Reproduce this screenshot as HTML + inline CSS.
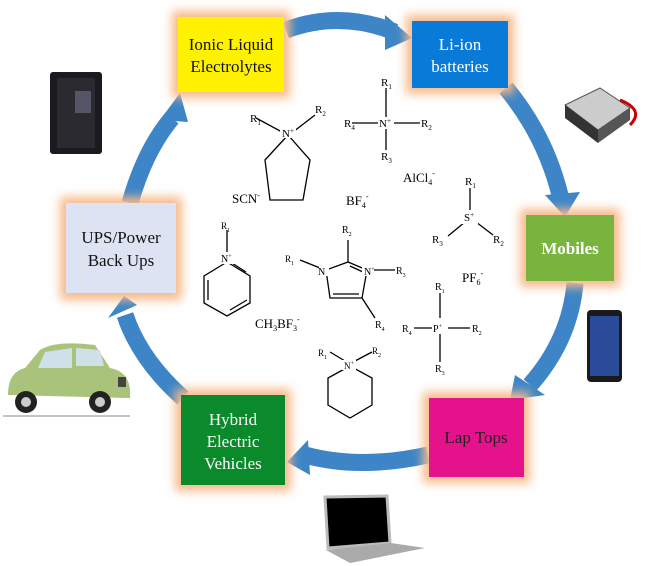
<!DOCTYPE html>
<html><head><meta charset="utf-8"><style>
body{margin:0;background:#fff;}
svg{display:block;font-family:"Liberation Serif",serif;}
.s text{font-family:"Liberation Sans",sans-serif;font-size:10px;}
</style></head><body>
<svg width="649" height="566" viewBox="0 0 649 566" xmlns="http://www.w3.org/2000/svg">
<defs>
<filter id="g" x="-30%" y="-30%" width="160%" height="160%"><feGaussianBlur stdDeviation="5"/></filter>
</defs>
<!-- arrows -->
<g fill="none" stroke="#3d85c6" stroke-width="17">
<path d="M286,30 Q340,10 395,32"/>
<path d="M506,88 Q545,135 560,195"/>
<path d="M575,283 Q570,340 530,385"/>
<path d="M428,455 Q360,470 305,455"/>
<path d="M183,398 Q140,360 125,315"/>
<path d="M130,203 Q145,150 172,118"/>
</g>
<g fill="#3d85c6">
<polygon points="385,15 412,38 385,50"/>
<polygon points="545,195 580,192 565,217"/>
<polygon points="515,375 545,395 510,400"/>
<polygon points="308,440 287,462 310,475"/>
<polygon points="108,318 137,305 124,296"/>
<polygon points="160,120 188,122 180,93"/>
</g>
<!-- boxes with glow -->
<g fill="#f7b98a" filter="url(#g)">
<rect x="172" y="11" width="118" height="87"/>
<rect x="406" y="15" width="108" height="79"/>
<rect x="60" y="197" width="122" height="103"/>
<rect x="520" y="209" width="100" height="78"/>
<rect x="175" y="389" width="116" height="102"/>
<rect x="423" y="392" width="107" height="91"/>
</g>
<rect x="178" y="17" width="106" height="75" fill="#fff200"/>
<rect x="412" y="21" width="96" height="67" fill="#0a7ad8"/>
<rect x="66" y="203" width="110" height="90" fill="#dde3f2"/>
<rect x="526" y="215" width="88" height="66" fill="#78b43e"/>
<rect x="181" y="395" width="104" height="90" fill="#0a8a2a"/>
<rect x="429" y="398" width="95" height="79" fill="#e6128c"/>
<g font-size="17" text-anchor="middle">
<text x="231" y="50" fill="#111">Ionic Liquid</text>
<text x="231" y="72" fill="#111">Electrolytes</text>
<text x="460" y="50" fill="#fff">Li-ion</text>
<text x="460" y="72" fill="#fff">batteries</text>
<text x="121" y="243" fill="#111">UPS/Power</text>
<text x="121" y="266" fill="#111">Back Ups</text>
<text x="570" y="254" fill="#fff" font-weight="bold">Mobiles</text>
<text x="233" y="425" fill="#fff">Hybrid</text>
<text x="233" y="447" fill="#fff">Electric</text>
<text x="233" y="469" fill="#fff">Vehicles</text>
<text x="476" y="443" fill="#222">Lap Tops</text>
</g>
<!-- chemistry -->
<g stroke="#000" stroke-width="1.3" fill="none">
<polygon points="288,135 265,160 270,200 303,200 310,160"/>
<line x1="256" y1="118" x2="282" y2="132"/><line x1="293" y1="132" x2="315" y2="115"/>
<line x1="386" y1="88" x2="386" y2="118"/><line x1="352" y1="123" x2="379" y2="123"/><line x1="394" y1="123" x2="420" y2="123"/><line x1="386" y1="128" x2="386" y2="150"/>
<line x1="470" y1="188" x2="470" y2="210"/><line x1="465" y1="222" x2="448" y2="236"/><line x1="476" y1="222" x2="493" y2="235"/>
<polygon points="227,262 204,276 204,303 227,316 250,303 250,276"/>
<line x1="227" y1="230" x2="227" y2="254"/>
<line x1="208" y1="280" x2="208" y2="300"/><line x1="230" y1="310" x2="247" y2="300"/><line x1="232" y1="263" x2="246" y2="272"/>
<polygon points="348,262 326,270 330,298 362,298 367,270"/>
<line x1="348" y1="262" x2="348" y2="240"/><line x1="300" y1="260" x2="320" y2="268"/><line x1="372" y1="270" x2="395" y2="270"/><line x1="362" y1="298" x2="375" y2="318"/>
<line x1="333" y1="294" x2="359" y2="294"/><line x1="350" y1="266" x2="363" y2="272"/>
<line x1="440" y1="293" x2="440" y2="318"/><line x1="414" y1="328" x2="433" y2="328"/><line x1="447" y1="328" x2="470" y2="328"/><line x1="440" y1="334" x2="440" y2="362"/>
<polygon points="350,366 328,378 328,405 350,418 372,405 372,378"/>
<line x1="330" y1="352" x2="345" y2="361"/><line x1="355" y1="361" x2="372" y2="352"/>
</g>
<g fill="#fff"><rect x="342" y="360" width="14" height="10"/><rect x="280" y="126" width="16" height="12"/><rect x="378" y="117" width="16" height="12"/><rect x="219" y="252" width="16" height="12"/><rect x="319" y="264" width="10" height="12"/><rect x="362" y="264" width="12" height="12"/><rect x="432" y="322" width="16" height="12"/><rect x="462" y="210" width="16" height="14"/></g>
<g font-size="11" fill="#000">
<text x="250" y="122">R<tspan font-size="7" dy="3">1</tspan></text><text x="315" y="113">R<tspan font-size="7" dy="3">2</tspan></text>
<text x="282" y="137">N<tspan font-size="7" dy="-4">+</tspan></text>
<text x="381" y="86">R<tspan font-size="7" dy="3">1</tspan></text><text x="344" y="127">R<tspan font-size="7" dy="3">4</tspan></text><text x="379" y="127">N<tspan font-size="7" dy="-4">+</tspan></text><text x="421" y="127">R<tspan font-size="7" dy="3">2</tspan></text><text x="381" y="160">R<tspan font-size="7" dy="3">3</tspan></text>
<text x="465" y="185">R<tspan font-size="7" dy="3">1</tspan></text><text x="464" y="221">S<tspan font-size="7" dy="-4">+</tspan></text><text x="432" y="243">R<tspan font-size="7" dy="3">3</tspan></text><text x="493" y="243">R<tspan font-size="7" dy="3">2</tspan></text>
<text x="221" y="229" font-size="9">R<tspan font-size="6" dy="3">1</tspan></text><text x="221" y="262" font-size="10">N<tspan font-size="6" dy="-4">+</tspan></text>
<text x="285" y="262" font-size="9">R<tspan font-size="6" dy="3">1</tspan></text><text x="342" y="233" font-size="10">R<tspan font-size="6" dy="3">2</tspan></text><text x="318" y="275" font-size="10">N</text><text x="364" y="275" font-size="10">N<tspan font-size="6" dy="-4">+</tspan></text><text x="396" y="274" font-size="10">R<tspan font-size="6" dy="3">3</tspan></text><text x="375" y="328" font-size="10">R<tspan font-size="6" dy="3">4</tspan></text>
<text x="435" y="290" font-size="10">R<tspan font-size="6" dy="3">1</tspan></text><text x="402" y="332" font-size="10">R<tspan font-size="6" dy="3">4</tspan></text><text x="433" y="332" font-size="10">P<tspan font-size="6" dy="-4">+</tspan></text><text x="472" y="332" font-size="10">R<tspan font-size="6" dy="3">2</tspan></text><text x="435" y="372" font-size="10">R<tspan font-size="6" dy="3">3</tspan></text>
<text x="318" y="356" font-size="9">R<tspan font-size="6" dy="3">1</tspan></text><text x="372" y="354" font-size="9">R<tspan font-size="6" dy="3">2</tspan></text><text x="344" y="369" font-size="9">N<tspan font-size="6" dy="-4">+</tspan></text>
</g>
<g font-size="13" fill="#000">
<text x="232" y="203">SCN<tspan font-size="8" dy="-5">-</tspan></text>
<text x="346" y="205">BF<tspan font-size="8" dy="3">4</tspan><tspan font-size="8" dy="-9">-</tspan></text>
<text x="403" y="182">AlCl<tspan font-size="8" dy="3">4</tspan><tspan font-size="8" dy="-9">-</tspan></text>
<text x="462" y="282">PF<tspan font-size="8" dy="3">6</tspan><tspan font-size="8" dy="-9">-</tspan></text>
<text x="255" y="328">CH<tspan font-size="8" dy="3">3</tspan><tspan dy="-3">BF</tspan><tspan font-size="8" dy="3">3</tspan><tspan font-size="8" dy="-9">-</tspan></text>
</g>
<!-- UPS device -->
<rect x="50" y="72" width="52" height="82" rx="3" fill="#1a1a1f"/>
<rect x="57" y="78" width="38" height="70" fill="#2a2a30"/>
<rect x="75" y="91" width="16" height="22" fill="#556"/>
<!-- battery -->
<polygon points="565,105 600,88 630,108 598,130" fill="#ccc" stroke="#555"/>
<polygon points="565,105 598,130 598,143 565,118" fill="#333"/>
<polygon points="598,130 630,108 630,120 598,143" fill="#555"/>
<path d="M620,100 Q645,110 630,125" stroke="#c00" stroke-width="3" fill="none"/>
<!-- phone -->
<rect x="587" y="310" width="35" height="72" rx="4" fill="#1a1a1a"/>
<rect x="590" y="316" width="29" height="60" fill="#2a4a9a"/>
<!-- car -->
<path d="M8,395 Q8,372 25,368 L40,350 Q55,340 95,345 L110,368 Q132,372 130,398 Z" fill="#a9c37a"/>
<polygon points="45,352 72,348 72,368 38,368" fill="#cfe0e8"/>
<polygon points="76,348 100,350 104,366 76,366" fill="#cfe0e8"/>
<circle cx="26" cy="402" r="11" fill="#222"/><circle cx="26" cy="402" r="5" fill="#ccc"/>
<circle cx="100" cy="402" r="11" fill="#222"/><circle cx="100" cy="402" r="5" fill="#ccc"/>
<line x1="3" y1="416" x2="130" y2="416" stroke="#888"/>
<rect x="118" y="377" width="8" height="10" fill="#444"/>
<!-- laptop -->
<polygon points="325,497 387,496 390,543 328,548" fill="#000" stroke="#bbb" stroke-width="3"/>
<polygon points="326,550 391,543 425,548 350,563" fill="#aaa"/>
</svg>
</body></html>
